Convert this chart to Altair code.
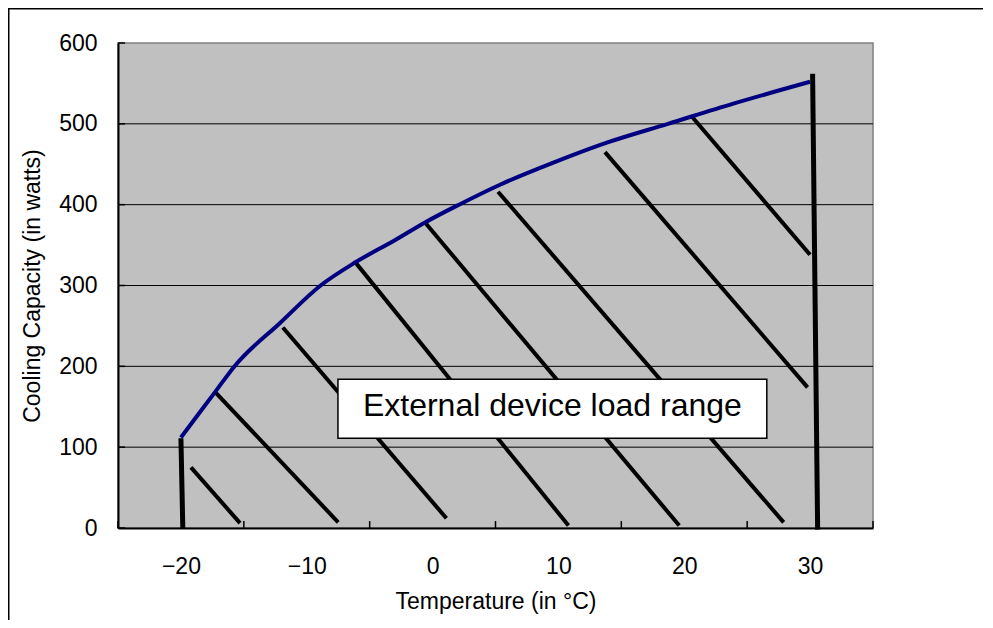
import altair as alt
import pandas as pd

FONT = "Liberation Sans, Arial, sans-serif"

# Capacity curve (temperature °C, watts)
curve_t = [-20, -17.2, -15.8, -12.1, -8.9, -6.1, -3, -0.6, 2.1, 5.4, 9.6, 13.9, 18.7, 23.9, 30]
curve_w = [112, 170, 199, 254, 300, 329, 356, 378, 400, 425, 452, 477, 500, 525, 552]

# Hatch segments
hatch_x1 = [-19.2, -17.2, -11.9, -6.1, -0.6, 5.2, 13.7, 20.6]
hatch_y1 = [75, 167, 248, 328, 378, 416, 465, 509]
hatch_x2 = [-15.3, -7.5, 1.1, 10.8, 19.6, 27.9, 29.8, 30.0]
hatch_y2 = [6, 7, 12, 3, 3, 7, 174, 338]

# Boundary verticals
edge_x1 = [-20.0, 30.2]
edge_y1 = [111, 562]
edge_x2 = [-19.85, 30.6]
edge_y2 = [0, -2]

# Axis values
x_labels = [-20, -10, 0, 10, 20, 30]
x_ticks = [-25, -15, -5, 5, 15, 25, 35]
y_values = [0, 100, 200, 300, 400, 500, 600]
y_grid = [100, 200, 300, 400, 500]

# Annotation box
box_label = "External device load range"
box_x = [-7.52, 26.56]
box_y = [111, 184]
box_text_y = 138.6

xs = alt.Scale(domain=[-25, 35], nice=False, zero=False)
ys = alt.Scale(domain=[0, 600], nice=False, zero=False)

x_axis = alt.Axis(values=x_labels, ticks=False, tickSize=0, grid=False,
                  labelFont=FONT, labelFontSize=23, labelColor="black", labelPadding=27,
                  domainColor="black", domainWidth=2,
                  title="Temperature (in °C)", titleFont=FONT, titleFontSize=23,
                  titleFontWeight="normal", titleColor="black",
                  titleY=80, titleBaseline="alphabetic")
y_axis = alt.Axis(values=y_values, ticks=False, tickSize=0, grid=False,
                  labelFont=FONT, labelFontSize=23, labelColor="black", labelPadding=21,
                  domainColor="black", domainWidth=2,
                  title="Cooling Capacity (in watts)", titleFont=FONT, titleFontSize=23,
                  titleFontWeight="normal", titleColor="black",
                  titleX=-79, titleBaseline="alphabetic")

curve_df = pd.DataFrame({"t": curve_t, "w": curve_w})
hatch_df = pd.DataFrame({"x1": hatch_x1, "y1": hatch_y1, "x2": hatch_x2, "y2": hatch_y2})
edge_df = pd.DataFrame({"x1": edge_x1, "y1": edge_y1, "x2": edge_x2, "y2": edge_y2})
grid_df = pd.DataFrame({"g": y_grid})
xt_df = pd.DataFrame({"x": x_ticks, "y0": [0] * len(x_ticks), "y1": [8.6] * len(x_ticks)})
yt_df = pd.DataFrame({"y": y_values, "x0": [-25] * len(y_values), "x1": [-24.44] * len(y_values)})
box_df = pd.DataFrame({"x1": [box_x[0]], "x2": [box_x[1]], "y1": [box_y[0]], "y2": [box_y[1]],
                       "cx": [(box_x[0] + box_x[1]) / 2], "ty": [box_text_y], "label": [box_label]})

base = alt.Chart(curve_df).mark_line(color="#000080", strokeWidth=4, interpolate="monotone").encode(
    x=alt.X("t:Q", scale=xs, axis=x_axis),
    y=alt.Y("w:Q", scale=ys, axis=y_axis),
)

grid = alt.Chart(grid_df).mark_rule(color="black", strokeWidth=1).encode(
    y=alt.Y("g:Q", scale=ys))

xticks = alt.Chart(xt_df).mark_rule(color="black", strokeWidth=1.5).encode(
    x=alt.X("x:Q", scale=xs), y=alt.Y("y0:Q", scale=ys), y2="y1:Q")
yticks = alt.Chart(yt_df).mark_rule(color="black", strokeWidth=1.5).encode(
    y=alt.Y("y:Q", scale=ys), x=alt.X("x0:Q", scale=xs), x2="x1:Q")

hatch = alt.Chart(hatch_df).mark_rule(color="black", strokeWidth=4).encode(
    x=alt.X("x1:Q", scale=xs), y=alt.Y("y1:Q", scale=ys), x2="x2:Q", y2="y2:Q")
edges = alt.Chart(edge_df).mark_rule(color="black", strokeWidth=5).encode(
    x=alt.X("x1:Q", scale=xs), y=alt.Y("y1:Q", scale=ys), x2="x2:Q", y2="y2:Q")

box = alt.Chart(box_df).mark_rect(fill="white", stroke="black", strokeWidth=1.5).encode(
    x=alt.X("x1:Q", scale=xs), x2="x2:Q", y=alt.Y("y1:Q", scale=ys), y2="y2:Q")
box_text = alt.Chart(box_df).mark_text(font=FONT, fontSize=32, color="black",
                                       align="center", baseline="alphabetic").encode(
    x=alt.X("cx:Q", scale=xs), y=alt.Y("ty:Q", scale=ys), text="label:N")

frame_left = alt.Chart(box_df).mark_rule(color="black", strokeWidth=1.5).encode(
    x=alt.value(-109.25), y=alt.value(-40), y2=alt.value(700))
frame_top = alt.Chart(box_df).mark_rule(color="black", strokeWidth=1.5).encode(
    y=alt.value(-34.25), x=alt.value(-115), x2=alt.value(1000))

chart = alt.layer(grid, hatch, edges, base, xticks, yticks, box, box_text, frame_left, frame_top).properties(
    width=755, height=485,
    autosize=alt.AutoSizeParams(type="none"),
    padding={"left": 110, "top": 35, "right": 110, "bottom": 92},
    background="white",
).configure_view(fill="#C0C0C0", stroke="#808080", strokeWidth=1.5)

chart.save("out.html", embed_options={"renderer": "svg", "actions": False})
